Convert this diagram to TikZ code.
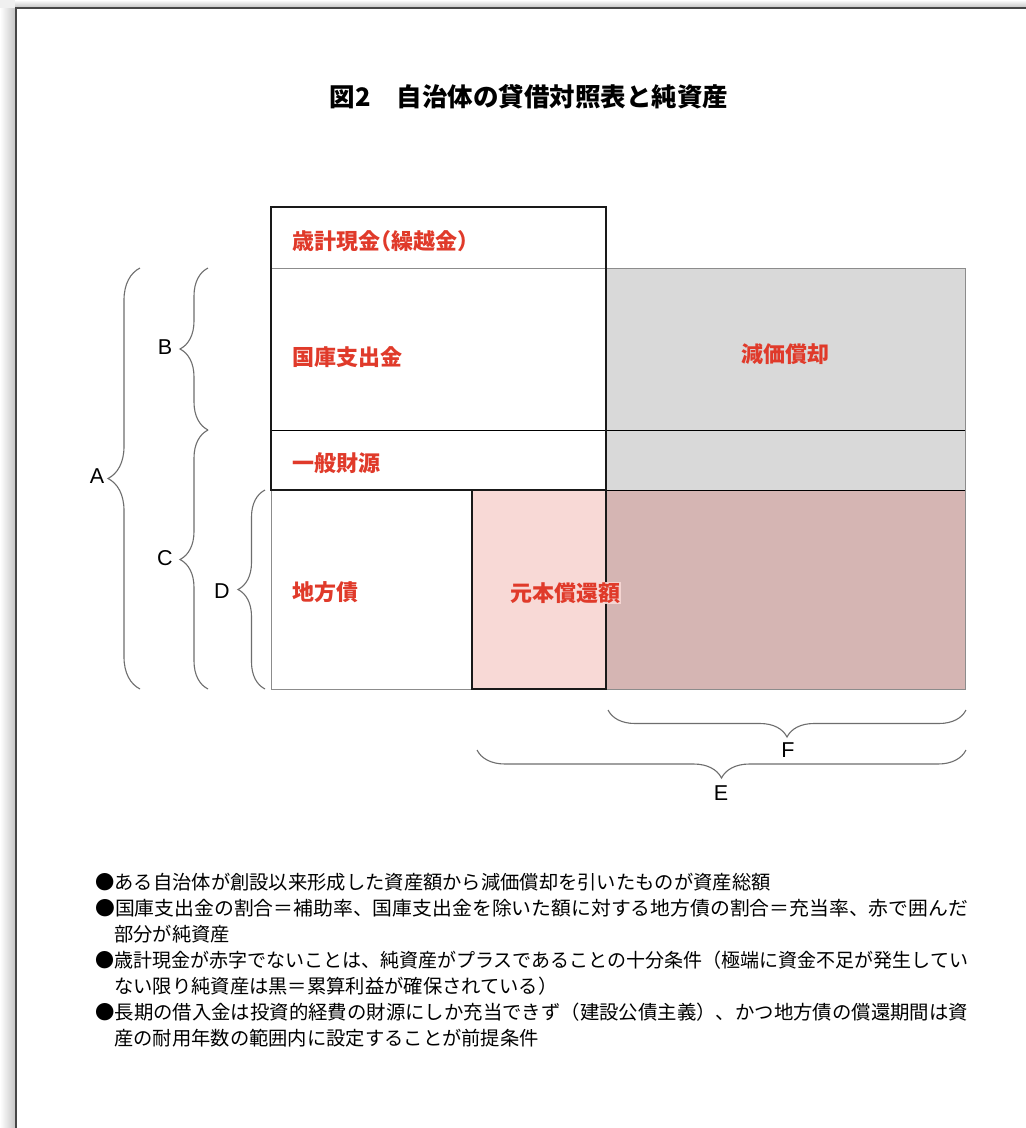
\documentclass[tikz,border=0pt]{standalone}
\usepackage{fontspec}
\usepackage{graphicx}
\setmainfont{Liberation Sans}
\newfontfamily\jp{Noto Sans CJK JP}
\usetikzlibrary{decorations.pathreplacing}
\definecolor{labred}{RGB}{224,58,42}
\definecolor{grayfill}{RGB}{217,217,217}
\definecolor{brownfill}{RGB}{213,181,179}
\definecolor{pinkfill}{RGB}{248,217,214}
\definecolor{bracegray}{RGB}{110,110,110}
\definecolor{edgegray}{RGB}{140,140,140}
\newcommand{\hw}[1]{{\addfontfeature{RawFeature=+halt}#1}}
\begin{document}
\begin{tikzpicture}[x=1pt,y=-1pt,
  redlab/.style={font=\jp\bfseries\fontsize{22}{26}\selectfont, text=labred, inner sep=0pt},
  letter/.style={font=\fontsize{21.5}{24}\selectfont, inner sep=0pt},
  brc/.style={draw=bracegray, line width=1.1pt, decorate, decoration={brace, amplitude=#1}},
  note/.style={font=\jp\fontsize{19.3}{24}\selectfont, anchor=west, inner sep=0pt},
  thickbox/.style={draw=black!90, line width=2pt},
  thinline/.style={draw=black, line width=0.9pt},
  grayline/.style={draw=edgegray, line width=0.9pt}]
\useasboundingbox (0,0) rectangle (1026,1128);
% page background and shadow
\fill[white] (0,0) rectangle (1026,1128);
\shade[left color=white, right color=black!22] (0,8) rectangle (15,1128);
\shade[top color=white, bottom color=black!22] (15,0) rectangle (1026,7);
\fill[black!6] (0,0) rectangle (15,8);
\draw[line width=2pt, draw=black!72] (16,1128) -- (16,8) -- (1026,8);

% title
\node (title) at (529,97) {\jp\bfseries\fontsize{25.5}{28}\selectfont 図2　自治体の貸借対照表と純資産};

% right-side rectangles
\fill[grayfill] (606,268) rectangle (965,490);
\fill[brownfill] (606,490) rectangle (965,689);
\draw[grayline] (606,268) -- (965,268) -- (965,689) -- (271,689) -- (271,490);
\draw[thinline] (271,430) -- (965,430);
\draw[thinline] (606,490) -- (965,490);

% top box
\draw[grayline] (271,268) -- (606,268);
\draw[thickbox] (271,207) rectangle (606,490);

% pink box
\fill[pinkfill] (472,490) rectangle (606,689);
\draw[thickbox] (472,490) rectangle (606,689);

% labels
\node[redlab, anchor=west] (kei) at (292,241) {歳計現金\hw{（}繰越金\hw{）}};
\node[redlab, anchor=west] (koku) at (292,357) {国庫支出金};
\node[redlab, anchor=west] (ippan) at (292,463) {一般財源};
\node[redlab, anchor=west] (chiho) at (292,592) {地方債};
\node[redlab] (genka) at (785,354) {減価償却};
\node[redlab, fill=pinkfill, fill opacity=0.9, text opacity=1, inner sep=1pt] (ganpon) at (565,593) {元本償還額};

% braces
\coordinate (a1) at (140,689); \coordinate (a2) at (140,268);
\draw[brc=32] (a1) -- (a2);
\coordinate (b1) at (208,430); \coordinate (b2) at (208,268);
\draw[brc=28] (b1) -- (b2);
\coordinate (c1) at (208,689); \coordinate (c2) at (208,430);
\draw[brc=28] (c1) -- (c2);
\coordinate (d1) at (265,689); \coordinate (d2) at (265,490);
\draw[brc=27] (d1) -- (d2);
\coordinate (f1) at (966,710); \coordinate (f2) at (608,710);
\draw[brc=27] (f1) -- (f2);
\coordinate (e1) at (966,750); \coordinate (e2) at (477,750);
\draw[brc=28] (e1) -- (e2);

\node[letter] (A) at (97,476) {A};
\node[letter] (B) at (165,347) {B};
\node[letter] (C) at (165,558) {C};
\node[letter] (D) at (222,591) {D};
\node[letter] (F) at (788,750) {F};
\node[letter] (E) at (721,793) {E};

% notes
\node[note] (n1) at (95,882) {●ある自治体が創設以来形成した資産額から減価償却を引いたものが資産総額};
\node[note] (n2) at (95,908) {\resizebox{873pt}{\height}{●国庫支出金の割合＝補助率、国庫支出金を除いた額に対する地方債の割合＝充当率、赤で囲んだ}};
\node[note] (n2b) at (114,934) {部分が純資産};
\node[note] (n3) at (95,960) {\resizebox{873pt}{\height}{●歳計現金が赤字でないことは、純資産がプラスであることの十分条件（極端に資金不足が発生してい}};
\node[note] (n3b) at (114,986) {ない限り純資産は黒＝累算利益が確保されている）};
\node[note] (n4) at (95,1012) {\resizebox{873pt}{\height}{●長期の借入金は投資的経費の財源にしか充当できず（建設公債主義）、かつ地方債の償還期間は資}};
\node[note] (n4b) at (114,1038) {産の耐用年数の範囲内に設定することが前提条件};
\end{tikzpicture}
\end{document}
